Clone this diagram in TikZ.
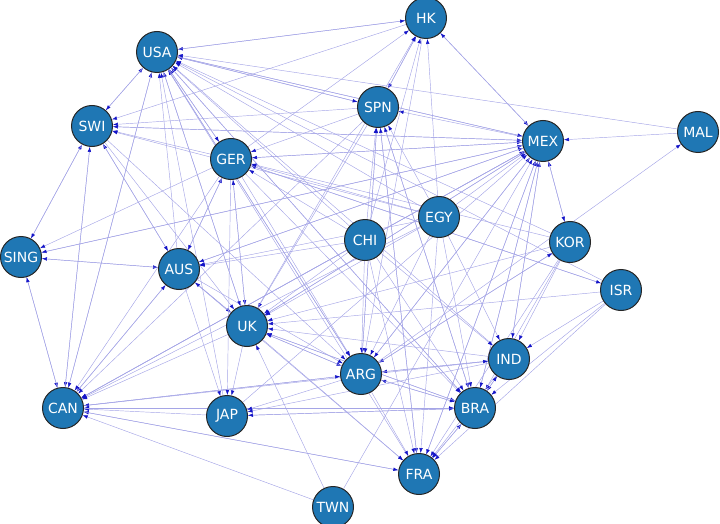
\documentclass[tikz,border=0pt]{standalone}
\usepackage{fontspec}
\setmainfont{DejaVu Sans}
\usetikzlibrary{arrows.meta}
\pgfdeclarelayer{background}
\pgfsetlayers{background,main}
\definecolor{nodefill}{RGB}{31,119,180}
\definecolor{edgecol}{RGB}{165,165,230}
\definecolor{tipcol}{RGB}{20,20,200}
\begin{document}
\begin{tikzpicture}[x=1pt,y=-1pt,
  country/.style={circle,draw=black!85,line width=1pt,fill=nodefill,minimum size=41pt,inner sep=0pt,
    text=white,font=\fontsize{14}{16}\selectfont},
  edge/.style={draw=edgecol,line width=0.45pt,-{Latex[length=5pt,width=3.6pt,color=tipcol]}}]
\useasboundingbox (0,0) rectangle (720,524);
\node[country] (HK) at (426,18) {HK};
\node[country] (USA) at (157,52) {USA};
\node[country] (SPN) at (378,107) {SPN};
\node[country] (MEX) at (543,141) {MEX};
\node[country] (MAL) at (698,132) {MAL};
\node[country] (SWI) at (92,126) {SWI};
\node[country] (GER) at (231,159) {GER};
\node[country] (EGY) at (439,217) {EGY};
\node[country] (CHI) at (365,240) {CHI};
\node[country] (KOR) at (570,242) {KOR};
\node[country] (ISR) at (621,290) {ISR};
\node[country] (SING) at (21,257) {SING};
\node[country] (AUS) at (179,269) {AUS};
\node[country] (UK) at (247,326) {UK};
\node[country] (IND) at (509,359) {IND};
\node[country] (ARG) at (361,374) {ARG};
\node[country] (BRA) at (475,408) {BRA};
\node[country] (CAN) at (63,408) {CAN};
\node[country] (JAP) at (227,416) {JAP};
\node[country] (FRA) at (419,474) {FRA};
\node[country] (TWN) at (333,507) {TWN};
\begin{pgfonlayer}{background}
\foreach \t/\ss in {
  USA/{HK,SWI,GER,SPN,MEX,EGY,CHI,KOR,AUS,UK,ARG,CAN,JAP,IND,BRA,FRA,ISR,MAL},
  MEX/{HK,MAL,USA,SWI,GER,EGY,CHI,AUS,UK,ARG,CAN,JAP,BRA,IND,FRA,TWN,SING,KOR},
  CAN/{SWI,USA,SING,AUS,GER,UK,ARG,BRA,MEX,EGY,CHI,IND,JAP,FRA,TWN,SPN},
  ARG/{USA,SWI,GER,AUS,UK,CHI,EGY,MEX,SPN,IND,BRA,KOR,HK,CAN},
  BRA/{ARG,IND,MEX,EGY,CHI,KOR,SPN,UK,USA,GER,CAN,ISR,FRA,JAP},
  FRA/{ARG,BRA,UK,CHI,EGY,SPN,IND,KOR,CAN,AUS,ISR,MEX},
  UK/{AUS,USA,SWI,GER,CHI,EGY,MEX,ARG,TWN,BRA,SPN,KOR,IND,ISR},
  SWI/{USA,SING,CAN,GER,AUS,MEX,SPN,EGY,HK},
  GER/{AUS,MEX,EGY,CHI,KOR,SPN,USA,ISR,UK},
  SPN/{HK,MEX,CHI,EGY,ARG,BRA,USA,FRA},
  HK/{USA,SPN,EGY,CHI,GER,UK,MEX},
  AUS/{SING,CAN,UK,MEX,GER,CHI,EGY,SWI},
  JAP/{UK,AUS,GER,BRA,ARG,IND},
  IND/{ARG,MEX,EGY,KOR,BRA,ISR,CHI},
  SING/{SWI,CAN,AUS,GER,MEX},
  KOR/{MEX,ARG},
  ISR/{GER},
  MAL/{ARG}}
  {\foreach \s in \ss {\draw[edge] (\s) -- (\t);}}
\end{pgfonlayer}
\end{tikzpicture}
\end{document}
